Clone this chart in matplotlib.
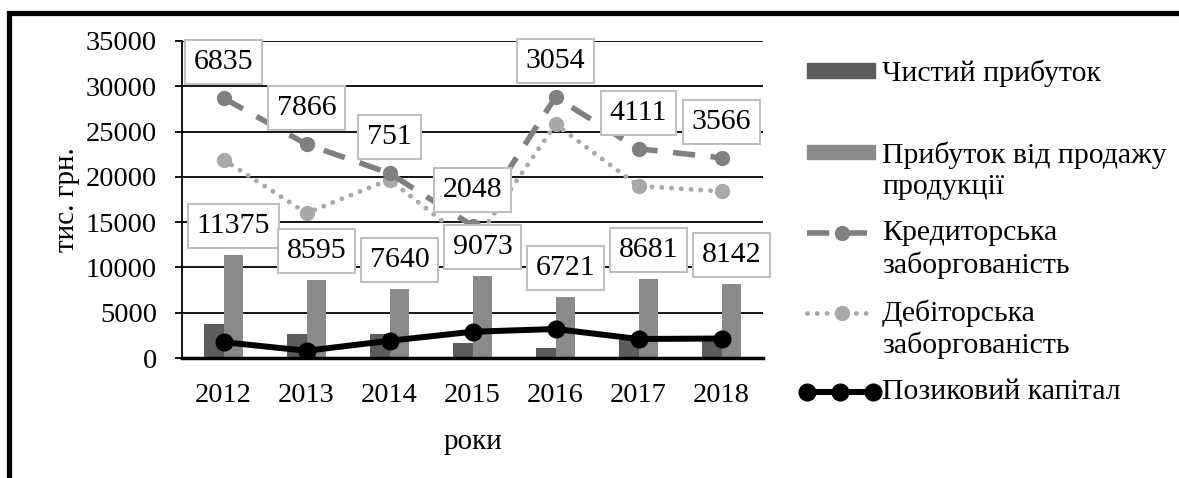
import numpy as np
import matplotlib.pyplot as plt
from matplotlib.lines import Line2D
from matplotlib.patches import Rectangle

plt.rcParams['font.family'] = ['Liberation Serif', 'DejaVu Serif']

# --- data ---
years = ['2012', '2013', '2014', '2015', '2016', '2017', '2018']
net_profit = [3800, 2700, 2700, 1700, 1050, 2400, 2400]          # Чистий прибуток
sales_profit = [11375, 8595, 7640, 9073, 6721, 8681, 8142]       # Прибуток від продажу продукції
payables = [28700, 23600, 20400, 14600, 28800, 23100, 22100]     # Кредиторська заборгованість
receivables = [21900, 16000, 19700, 12500, 25800, 19000, 18400]  # Дебіторська заборгованість
loan_capital = [1750, 800, 1900, 2900, 3200, 2100, 2150]         # Позиковий капітал
payables_labels = ['6835', '7866', '751', '2048', '3054', '4111', '3566']

W, H = 1179, 478
fig = plt.figure(figsize=(W / 100, H / 100), dpi=100)
ax = fig.add_axes([182 / W, 1 - 358 / H, (763 - 182) / W, (358 - 41) / H])

def fx(x):
    return x / W

def fy(y):
    return 1 - y / H

c_dark = '#5c5c5c'
c_mid = '#8a8a8a'
c_pay = '#808080'
c_rec = '#a9a9a9'

x = np.arange(len(years))
bw = 0.24
ax.bar(x - bw / 2, net_profit, bw, color=c_dark, zorder=2)
ax.bar(x + bw / 2, sales_profit, bw, color=c_mid, zorder=2)

ax.plot(x, payables, color=c_pay, lw=4, dashes=[4, 2.8], marker='o', ms=10,
        zorder=4)
ax.plot(x, receivables, color=c_rec, lw=3.5, linestyle=(0, (0.01, 2)),
        dash_capstyle='round', marker='o', ms=10, zorder=3)
ax.plot(x, loan_capital, color='black', lw=4.3, marker='o', ms=12, zorder=5)

box = dict(boxstyle='square,pad=0.3', fc='white', ec='#bfbfbf', lw=1.5)
for xi, v, lab in zip(x, payables, payables_labels):
    ax.annotate(lab, (xi, v), xytext=(0, 26), textcoords='offset points',
                ha='center', va='center', fontsize=21.5, bbox=box, zorder=6)
for xi, v in zip(x, sales_profit):
    ax.annotate(str(v), (xi + bw / 2, v), xytext=(0, 21), textcoords='offset points',
                ha='center', va='center', fontsize=21.5, bbox=box, zorder=6)

ax.set_xlim(-0.5, len(years) - 0.5)
ax.set_ylim(0, 35000)
ax.set_yticks(range(0, 35001, 5000))
ax.set_xticks(x)
ax.set_xticklabels(years)
ax.yaxis.grid(True, color='black', lw=1.3, zorder=0)
ax.set_axisbelow(True)
ax.tick_params(axis='y', length=5, width=1.3, pad=13, labelsize=20.5)
ax.tick_params(axis='x', length=0, pad=18, labelsize=20.5)
for s in ['top', 'right']:
    ax.spines[s].set_visible(False)
ax.spines['left'].set_linewidth(1.3)
ax.spines['bottom'].set_linewidth(2.5)
ax.set_xlabel('роки', fontsize=21, labelpad=15)
ax.set_ylabel('тис. грн.', fontsize=21, labelpad=4)

# --- legend drawn by hand to keep Excel-like alignment ---
tx = fx(882)
fs = 21.5
fig.add_artist(Rectangle((fx(807), fy(78)), fx(68), 15 / H, color=c_dark,
                         transform=fig.transFigure))
fig.text(tx, fy(73), 'Чистий прибуток', fontsize=fs, va='center')
fig.add_artist(Rectangle((fx(807), fy(159)), fx(68), 14 / H, color=c_mid,
                         transform=fig.transFigure))
fig.text(tx, fy(155), 'Прибуток від продажу', fontsize=fs, va='center')
fig.text(tx, fy(187), 'продукції', fontsize=fs, va='center')

fig.add_artist(Line2D([fx(807), fx(875)], [fy(233), fy(233)], color=c_pay, lw=4,
                      dashes=[4, 2.8], transform=fig.transFigure))
fig.add_artist(Line2D([fx(842)], [fy(233)], color=c_pay, marker='o', ms=10,
                      transform=fig.transFigure))
fig.text(tx, fy(233), 'Кредиторська', fontsize=fs, va='center')
fig.text(tx, fy(265), 'заборгованість', fontsize=fs, va='center')

fig.add_artist(Line2D([fx(807), fx(875)], [fy(313), fy(313)], color=c_rec, lw=3.5,
                      linestyle=(0, (0.01, 2)), dash_capstyle='round',
                      transform=fig.transFigure))
fig.add_artist(Line2D([fx(842)], [fy(313)], color=c_rec, marker='o', ms=10,
                      transform=fig.transFigure))
fig.text(tx, fy(313), 'Дебіторська', fontsize=fs, va='center')
fig.text(tx, fy(345), 'заборгованість', fontsize=fs, va='center')

fig.add_artist(Line2D([fx(807), fx(840), fx(873)], [fy(392)] * 3, color='black',
                      lw=4.3, marker='o', ms=12, transform=fig.transFigure))
fig.text(tx, fy(392), 'Позиковий капітал', fontsize=fs, va='center')

# frame (top and left edges only)
fig.add_artist(Line2D([fx(9), fx(9), fx(W)], [0, fy(13), fy(13)], color='black',
                      lw=3.8, solid_joinstyle='miter', transform=fig.transFigure))

fig.savefig('out.png', dpi=100)
